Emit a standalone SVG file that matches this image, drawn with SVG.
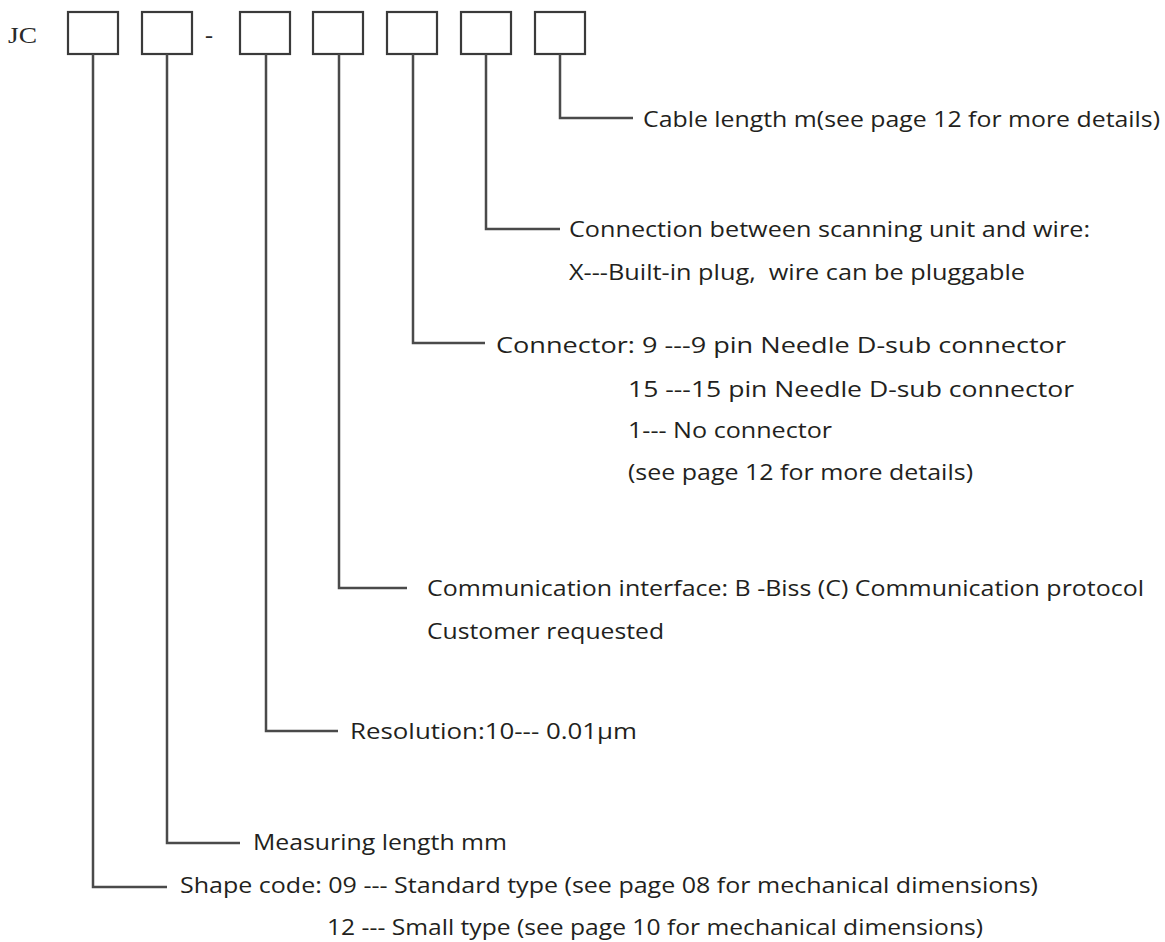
<svg xmlns="http://www.w3.org/2000/svg" width="1165" height="942" viewBox="0 0 1165 942">
<style>
.box{fill:#fff;stroke:#3a3a3a;stroke-width:2.2}
.ln{fill:none;stroke:#4a4a4a;stroke-width:2.5}
.t{font-family:"Open Sans","Noto Sans",sans-serif;font-size:22px;fill:#231f20}
.jc{font-family:"Liberation Serif",serif;font-size:24px;fill:#2a2a2a}
</style>
<rect width="1165" height="942" fill="#fff"/>
<g id="prefix">
<text class="jc" x="8" y="43" textLength="29" lengthAdjust="spacingAndGlyphs">JC</text>
<text class="jc" x="205" y="43" font-size="22">-</text>
</g>
<g id="box1"><rect class="box" x="68" y="12" width="50" height="42"/></g>
<g id="box2"><rect class="box" x="142" y="12" width="50" height="42"/></g>
<g id="box3"><rect class="box" x="240" y="12" width="50" height="42"/></g>
<g id="box4"><rect class="box" x="313" y="12" width="50" height="42"/></g>
<g id="box5"><rect class="box" x="387" y="12" width="50" height="42"/></g>
<g id="box6"><rect class="box" x="461" y="12" width="50" height="42"/></g>
<g id="box7"><rect class="box" x="535" y="12" width="50" height="42"/></g>
<g id="connectors">
<polyline class="ln" points="560,54 560,118 633,118"/>
<polyline class="ln" points="486,54 486,229 560,229"/>
<polyline class="ln" points="413,54 413,343 485,343"/>
<polyline class="ln" points="339,54 339,588 407,588"/>
<polyline class="ln" points="266,54 266,731 338,731"/>
<polyline class="ln" points="167,54 167,843 240,843"/>
<polyline class="ln" points="93,54 93,887 167,887"/>
</g>
<g id="label-cable">
<text class="t" x="643" y="127" textLength="517" lengthAdjust="spacingAndGlyphs">Cable length m(see page 12 for more details)</text>
</g>
<g id="label-connection">
<text class="t" x="569" y="237" textLength="521" lengthAdjust="spacingAndGlyphs">Connection between scanning unit and wire:</text>
<text class="t" x="569" y="280" textLength="456" lengthAdjust="spacingAndGlyphs">X---Built-in plug,&#160; wire can be pluggable</text>
</g>
<g id="label-connector">
<text class="t" x="496" y="353" textLength="570" lengthAdjust="spacingAndGlyphs">Connector: 9 ---9 pin Needle D-sub connector</text>
<text class="t" x="628" y="397" textLength="446" lengthAdjust="spacingAndGlyphs">15 ---15 pin Needle D-sub connector</text>
<text class="t" x="628" y="438" textLength="204" lengthAdjust="spacingAndGlyphs">1--- No connector</text>
<text class="t" x="628" y="480" textLength="345" lengthAdjust="spacingAndGlyphs">(see page 12 for more details)</text>
</g>
<g id="label-interface">
<text class="t" x="427" y="596" textLength="717" lengthAdjust="spacingAndGlyphs">Communication interface: B -Biss (C) Communication protocol</text>
<text class="t" x="427" y="639" textLength="237" lengthAdjust="spacingAndGlyphs">Customer requested</text>
</g>
<g id="label-resolution">
<text class="t" x="350" y="739" textLength="287" lengthAdjust="spacingAndGlyphs">Resolution:10--- 0.01μm</text>
</g>
<g id="label-length">
<text class="t" x="253" y="850" textLength="254" lengthAdjust="spacingAndGlyphs">Measuring length mm</text>
</g>
<g id="label-shape">
<text class="t" x="180" y="893" textLength="858" lengthAdjust="spacingAndGlyphs">Shape code: 09 --- Standard type (see page 08 for mechanical dimensions)</text>
<text class="t" x="327" y="935" textLength="656" lengthAdjust="spacingAndGlyphs">12 --- Small type (see page 10 for mechanical dimensions)</text>
</g>
</svg>
